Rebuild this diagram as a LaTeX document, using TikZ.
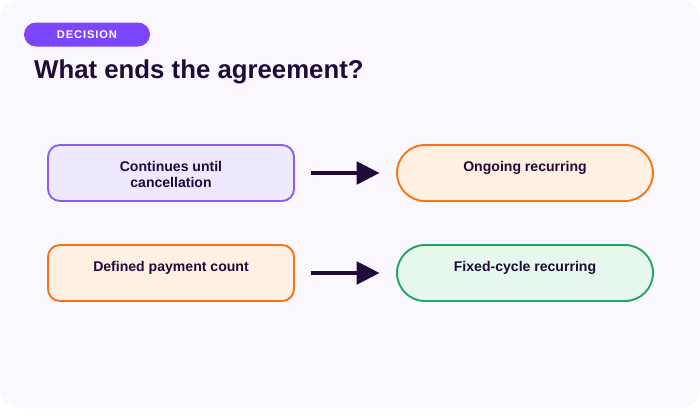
\documentclass[tikz,border=0pt]{standalone}
\usepackage{fontspec}
\setmainfont{Liberation Sans}
\newfontfamily\badgefont[LetterSpace=8]{Liberation Sans}
\usetikzlibrary{arrows.meta,positioning,calc}
\definecolor{ink}{HTML}{1E0B3A}
\definecolor{canvas}{HTML}{FAF7FF}
\definecolor{violet}{HTML}{7C46FF}
\definecolor{violetln}{HTML}{8B5CF6}
\definecolor{violetbg}{HTML}{EFE9FF}
\definecolor{orangeln}{HTML}{F97316}
\definecolor{orangebg}{HTML}{FFF0E2}
\definecolor{greenln}{HTML}{1FA463}
\definecolor{greenbg}{HTML}{E6F7EC}
\tikzset{
  cond/.style={draw=#1,line width=1.6pt,rounded corners=0.36cm,
        minimum width=7.38cm,minimum height=1.68cm},
  outcome/.style={draw=#1,line width=1.6pt,rounded corners=0.84cm,
        minimum width=7.68cm,minimum height=1.68cm},
  lbl/.style={anchor=north,inner sep=0pt,align=center,text=ink,
        font=\fontsize{12}{13.8}\selectfont\bfseries},
  flow/.style={-{Triangle[length=0.68cm,width=0.68cm]},ink,line width=2.6pt,
        shorten <=0.48cm,shorten >=0.5cm}
}
\newcommand{\choicebox}[5]{%
  \node[#3,fill=#4] (#1) at #2 {};
  \node[lbl] (#1-t) at ([yshift=-0.51cm]#1.north) {#5};}

\begin{document}
\begin{tikzpicture}[x=0.03cm,y=-0.03cm]
  \useasboundingbox (0,0) rectangle (700,408);
  \fill[canvas,rounded corners=0.6cm] (0,0) rectangle (700,408);

  % Heading
  \node[fill=violet,rounded corners=0.36cm,minimum width=3.78cm,
        minimum height=0.72cm,inner sep=0pt,text=white,
        font=\badgefont\fontsize{9.5}{11}\selectfont\bfseries]
       (badge) at (87,34.5) {DECISION};
  \node[anchor=base west,inner sep=0pt,text=ink,
        font=\fontsize{22}{26}\selectfont\bfseries]
       (title) at (34,78) {What ends the agreement?};

  % Conditions and outcomes
  \choicebox{until}{(171,173)}{cond=violetln}{violetbg}{Continues until\\cancellation}
  \choicebox{count}{(171,273)}{cond=orangeln}{orangebg}{Defined payment count}
  \choicebox{ongoing}{(525,173)}{outcome=orangeln}{orangebg}{Ongoing recurring}
  \choicebox{fixed}{(525,273)}{outcome=greenln}{greenbg}{Fixed-cycle recurring}

  \draw[flow] (until) -- (ongoing);
  \draw[flow] (count) -- (fixed);
\end{tikzpicture}
\end{document}
